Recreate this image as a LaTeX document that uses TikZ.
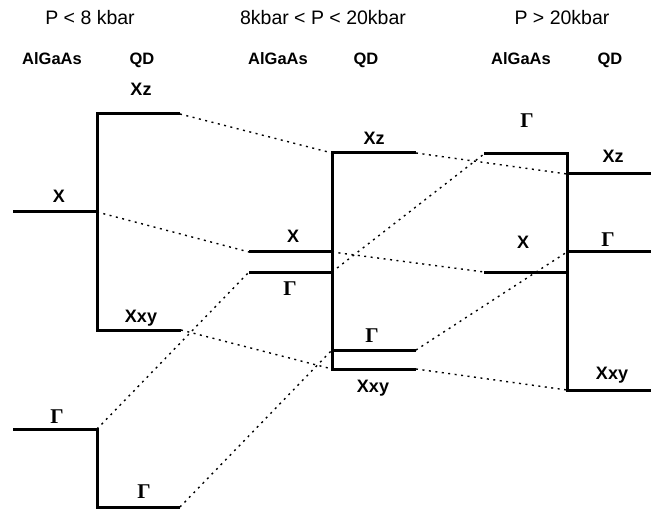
\documentclass[tikz,border=0pt]{standalone}
\usepackage{fontspec}
\setmainfont{Liberation Sans}
\newfontfamily\grk{Liberation Serif}
\tikzset{
  level/.style={line width=3pt},
  link/.style={line width=1.4pt, dash pattern=on 2pt off 4.5pt},
  head/.style={font=\fontsize{19.5}{20}\selectfont, anchor=base, inner sep=0pt},
  sub/.style={font=\bfseries\fontsize{16.5}{18}\selectfont, anchor=base, inner sep=0pt},
  lab/.style={font=\bfseries\fontsize{18}{18}\selectfont, anchor=base, inner sep=0pt},
  glab/.style={font=\grk\bfseries\fontsize{21}{21}\selectfont, anchor=base, inner sep=0pt},
}
\begin{document}
\begin{tikzpicture}[x=1pt,y=-1pt]
\useasboundingbox (0,0) rectangle (652,510);
% headers
\node[head] (h1) at (90,25) {P < 8 kbar};
\node[head] (h2) at (323,25) {8kbar < P < 20kbar};
\node[head] (h3) at (562,25) {P > 20kbar};
\node[sub] (s1a) at (52,65) {AlGaAs};
\node[sub] (s1b) at (142,65) {QD};
\node[sub] (s2a) at (278,65) {AlGaAs};
\node[sub] (s2b) at (366,65) {QD};
\node[sub] (s3a) at (521,65) {AlGaAs};
\node[sub] (s3b) at (610,65) {QD};

% ---------- panel 1 ----------
\coordinate (p1XL) at (13,212);
\coordinate (p1XR) at (97,212);
\coordinate (p1ZL) at (97,114);
\coordinate (p1ZR) at (180,114);
\coordinate (p1YL) at (97,330);
\coordinate (p1YR) at (181,330);
\coordinate (p1GL) at (13,429);
\coordinate (p1GR) at (97,429);
\coordinate (p1QL) at (97,507);
\coordinate (p1QR) at (180,507);
\draw[level] (p1XL) -- (p1XR);
\draw[level] (p1ZR) -- (p1ZL) -- (p1YL) -- (p1YR);
\draw[level] (p1GL) -- (p1GR) -- (p1QL) -- (p1QR);
\node[lab] (l1x) at (59,203) {X};
\node[lab] (l1z) at (141,96) {Xz};
\node[lab] (l1y) at (141,322) {Xxy};
\node[glab] (l1g) at (57,423) {Γ};
\node[glab] (l1q) at (144,498) {Γ};

% ---------- panel 2 ----------
\coordinate (p2XL) at (249,252);
\coordinate (p2XR) at (332,252);
\coordinate (p2GL) at (249,272);
\coordinate (p2GR) at (332,272);
\coordinate (p2ZL) at (332,153);
\coordinate (p2ZR) at (416,153);
\coordinate (p2QL) at (332,350);
\coordinate (p2QR) at (416,350);
\coordinate (p2YL) at (332,369);
\coordinate (p2YR) at (416,369);
\draw[level] (p2XL) -- (p2XR);
\draw[level] (p2GL) -- (p2GR);
\draw[level] (p2QR) -- (p2QL);
\draw[level] (p2ZR) -- (p2ZL) -- (p2YL) -- (p2YR);
\node[lab] (l2x) at (293,243) {X};
\node[glab] (l2g) at (290,295) {Γ};
\node[lab] (l2z) at (374,145) {Xz};
\node[glab] (l2q) at (372,342) {Γ};
\node[lab] (l2y) at (373,392) {Xxy};

% ---------- panel 3 ----------
\coordinate (p3GL) at (484,154);
\coordinate (p3GR) at (567,154);
\coordinate (p3XL) at (484,272);
\coordinate (p3XR) at (567,272);
\coordinate (p3ZL) at (567,174);
\coordinate (p3ZR) at (651,174);
\coordinate (p3QL) at (567,252);
\coordinate (p3QR) at (651,252);
\coordinate (p3YL) at (567,390);
\coordinate (p3YR) at (651,390);
\draw[level] (p3GL) -- (p3GR) -- (p3YL) -- (p3YR);
\draw[level] (p3XL) -- (p3XR);
\draw[level] (p3ZL) -- (p3ZR);
\draw[level] (p3QL) -- (p3QR);
\node[glab] (l3g) at (527,128) {Γ};
\node[lab] (l3x) at (523,248) {X};
\node[lab] (l3z) at (613,163) {Xz};
\node[glab] (l3q) at (608,247) {Γ};
\node[lab] (l3y) at (612,379) {Xxy};

% ---------- dotted connectors ----------
\draw[link] (p1ZR) -- (p2ZL);
\draw[link] (p1XR) -- (p2XL);
\draw[link] (p1YR) -- (p2YL);
\draw[link] (p1GR) -- (p2GL);
\draw[link] (p1QR) -- (p2QL);
\draw[link] (p2ZR) -- (p3ZL);
\draw[link] (p2XR) -- (p3XL);
\draw[link] (p2GR) -- (p3GL);
\draw[link] (p2QR) -- (p3QL);
\draw[link] (p2YR) -- (p3YL);
\end{tikzpicture}
\end{document}
